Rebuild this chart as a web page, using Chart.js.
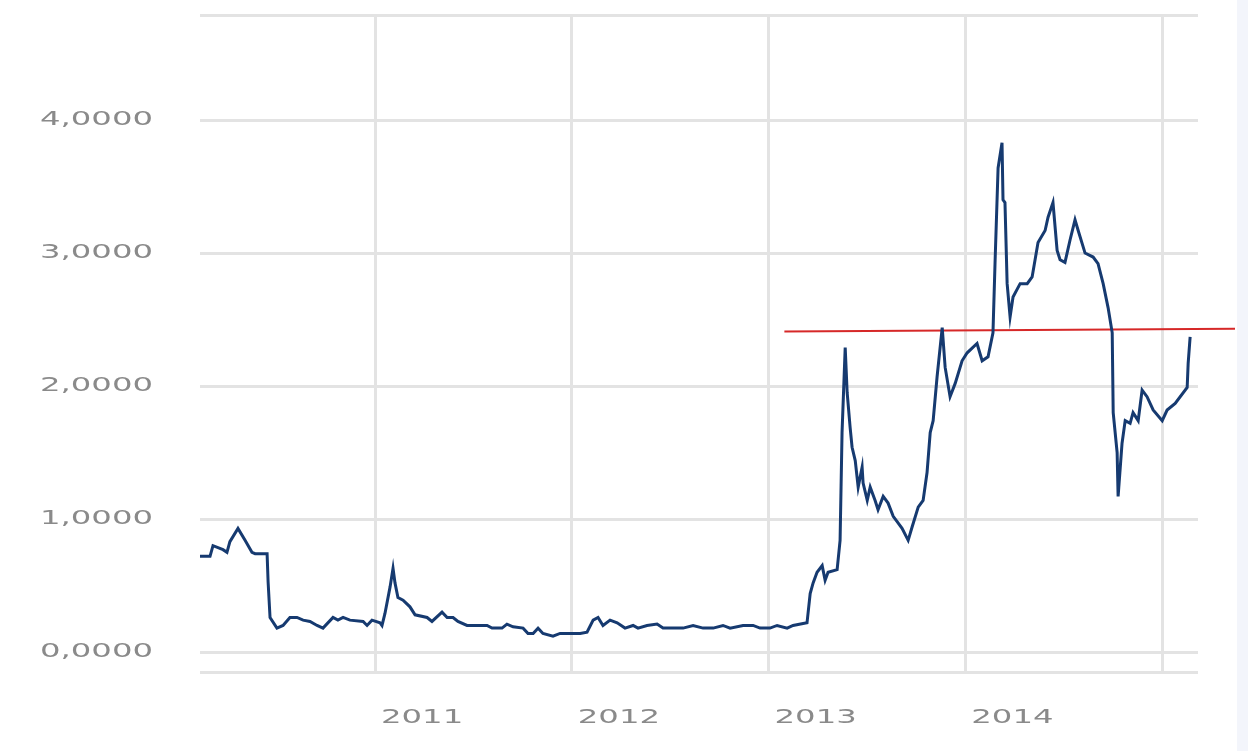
<!DOCTYPE html>
<html>
<head>
<meta charset="utf-8">
<script src="https://cdn.jsdelivr.net/npm/chart.js@4.4.1/dist/chart.umd.min.js"></script>
<style>
  html, body { margin: 0; padding: 0; background: #f3f5fb; }
  #wrap { width: 1237px; height: 751px; background: #ffffff; position: relative; }
</style>
</head>
<body>
<div id="wrap"><canvas id="myChart"></canvas></div>
<script>
// decimal years and values
const years = [
  2010.110, 2010.161, 2010.176, 2010.227, 2010.247, 2010.262, 2010.303, 2010.339, 2010.374, 2010.390,
  2010.451, 2010.456, 2010.466, 2010.501, 2010.532, 2010.567, 2010.603, 2010.634, 2010.669, 2010.705,
  2010.735, 2010.786, 2010.811, 2010.837, 2010.872, 2010.939, 2010.959, 2010.984, 2011.025, 2011.035,
  2011.050, 2011.076, 2011.091, 2011.101, 2011.116, 2011.142, 2011.177, 2011.203, 2011.264, 2011.289,
  2011.340, 2011.366, 2011.396, 2011.421, 2011.467, 2011.569, 2011.594, 2011.645, 2011.670, 2011.701,
  2011.752, 2011.777, 2011.803, 2011.828, 2011.853, 2011.904, 2011.940, 2012.042, 2012.077, 2012.108,
  2012.133, 2012.158, 2012.194, 2012.230, 2012.270, 2012.311, 2012.336, 2012.382, 2012.433, 2012.463,
  2012.514, 2012.565, 2012.616, 2012.667, 2012.718, 2012.768, 2012.804, 2012.870, 2012.921, 2012.956,
  2013.007, 2013.043, 2013.094, 2013.124, 2013.195, 2013.211, 2013.226, 2013.246, 2013.272, 2013.287,
  2013.302, 2013.348, 2013.363, 2013.373, 2013.389, 2013.399, 2013.414, 2013.424, 2013.440, 2013.455,
  2013.475, 2013.480, 2013.501, 2013.516, 2013.541, 2013.556, 2013.582, 2013.607, 2013.633, 2013.678,
  2013.709, 2013.729, 2013.760, 2013.785, 2013.805, 2013.821, 2013.836, 2013.856, 2013.882, 2013.897,
  2013.922, 2013.948, 2013.983, 2014.009, 2014.059, 2014.085, 2014.115, 2014.140, 2014.151, 2014.166,
  2014.186, 2014.191, 2014.201, 2014.212, 2014.227, 2014.242, 2014.278, 2014.314, 2014.339, 2014.354,
  2014.369, 2014.405, 2014.420, 2014.445, 2014.466, 2014.481, 2014.506, 2014.532, 2014.557, 2014.573,
  2014.608, 2014.649, 2014.674, 2014.700, 2014.725, 2014.746, 2014.751, 2014.771, 2014.776, 2014.796,
  2014.812, 2014.837, 2014.852, 2014.878, 2014.898, 2014.923, 2014.954, 2015.000, 2015.025, 2015.066,
  2015.127, 2015.132, 2015.142
];
const values = [
  0.72, 0.72, 0.80, 0.77, 0.75, 0.83, 0.93, 0.84, 0.75, 0.74,
  0.74, 0.53, 0.26, 0.18, 0.20, 0.26, 0.26, 0.24, 0.23, 0.20,
  0.18, 0.26, 0.24, 0.26, 0.24, 0.23, 0.20, 0.24, 0.22, 0.20,
  0.29, 0.49, 0.63, 0.52, 0.41, 0.39, 0.34, 0.28, 0.26, 0.23,
  0.30, 0.26, 0.26, 0.23, 0.20, 0.20, 0.18, 0.18, 0.21, 0.19,
  0.18, 0.14, 0.14, 0.18, 0.14, 0.12, 0.14, 0.14, 0.15, 0.24,
  0.26, 0.20, 0.24, 0.22, 0.18, 0.20, 0.18, 0.20, 0.21, 0.18,
  0.18, 0.18, 0.20, 0.18, 0.18, 0.20, 0.18, 0.20, 0.20, 0.18,
  0.18, 0.20, 0.18, 0.20, 0.22, 0.44, 0.52, 0.60, 0.65, 0.54,
  0.60, 0.62, 0.84, 1.65, 2.29, 1.95, 1.69, 1.54, 1.44, 1.24,
  1.39, 1.27, 1.14, 1.24, 1.14, 1.07, 1.17, 1.12, 1.02, 0.93,
  0.84, 0.94, 1.09, 1.14, 1.35, 1.65, 1.74, 2.07, 2.44, 2.14,
  1.92, 2.02, 2.19, 2.25, 2.32, 2.19, 2.22, 2.40, 2.95, 3.64,
  3.83, 3.40, 3.38, 2.77, 2.52, 2.67, 2.77, 2.77, 2.82, 2.95,
  3.08, 3.17, 3.27, 3.38, 3.02, 2.95, 2.93, 3.10, 3.25, 3.17,
  3.00, 2.97, 2.92, 2.77, 2.59, 2.40, 1.80, 1.50, 1.17, 1.57,
  1.74, 1.72, 1.80, 1.74, 1.97, 1.92, 1.82, 1.74, 1.82, 1.87,
  1.99, 2.17, 2.37
];

// red reference line
const refYears = [2013.08, 2015.37];
const refValues = [2.41, 2.43];

const xTicks = [2011, 2012, 2013, 2014, 2015];
const xLabelled = [2011, 2012, 2013, 2014];
const yTicks = [0, 1, 2, 3, 4];

const series = years.map((x, i) => ({ x: x, y: values[i] }));
const refLine = refYears.map((x, i) => ({ x: x, y: refValues[i] }));

const yLabel = v => v.toFixed(4).replace('.', ',');

// the original tick font is a wide, extended face; stretch DejaVu to match
const wideLabels = {
  id: 'wideLabels',
  afterDraw(chart) {
    const c = chart.ctx;
    const xs = chart.scales.x, ys = chart.scales.y;
    const stretch = 1.7;
    c.save();
    c.font = '19px "DejaVu Sans"';
    c.fillStyle = '#8a8a8a';
    c.textBaseline = 'middle';
    ys.ticks.forEach(t => {
      if (!yTicks.includes(t.value)) return;
      c.save();
      c.translate(ys.right - 47, ys.getPixelForValue(t.value));
      c.scale(stretch, 1);
      c.textAlign = 'right';
      c.fillText(yLabel(t.value), 0, 0);
      c.restore();
    });
    xs.ticks.forEach(t => {
      if (!xLabelled.includes(t.value)) return;
      c.save();
      c.translate(xs.getPixelForValue(t.value) + 47, xs.top + 46);
      c.scale(stretch, 1);
      c.textAlign = 'center';
      c.fillText(String(t.value), 0, 0);
      c.restore();
    });
    c.restore();
  }
};

const gridColor = '#e3e3e3';

const ctx = document.getElementById('myChart').getContext('2d');
const myChart = new Chart(ctx, {
    type: 'line',
    data: {
        datasets: [{
            data: series,
            borderColor: '#163a70',
            borderWidth: 3,
            pointRadius: 0,
            tension: 0,
            fill: false
        }, {
            data: refLine,
            borderColor: '#d62828',
            borderWidth: 2,
            pointRadius: 0,
            tension: 0,
            fill: false,
            clip: false
        }]
    },
    plugins: [wideLabels],
    options: {
        responsive: true,
        maintainAspectRatio: false,
        animation: false,
        layout: { padding: { top: 15, right: 39, left: 0, bottom: 0 } },
        plugins: {
            legend: { display: false },
            tooltip: { enabled: false }
        },
        scales: {
            x: {
                type: 'linear',
                min: 2010.11,
                max: 2015.182,
                afterBuildTicks: s => { s.ticks = xTicks.map(v => ({ value: v })); },
                afterFit: s => { s.height = 79; s.paddingLeft = 0; s.paddingRight = 0; },
                border: { display: false },
                grid: { color: gridColor, lineWidth: 3, drawTicks: false },
                ticks: { display: false }
            },
            y: {
                min: -0.15,
                max: 4.79,
                afterBuildTicks: s => {
                    s.ticks = [s.min].concat(yTicks, [s.max]).map(v => ({ value: v }));
                },
                afterFit: s => { s.width = 200; s.paddingTop = 0; s.paddingBottom = 0; },
                border: { display: false },
                grid: { color: gridColor, lineWidth: 3, drawTicks: false },
                ticks: { display: false }
            }
        }
    }
});
</script>
</body>
</html>
